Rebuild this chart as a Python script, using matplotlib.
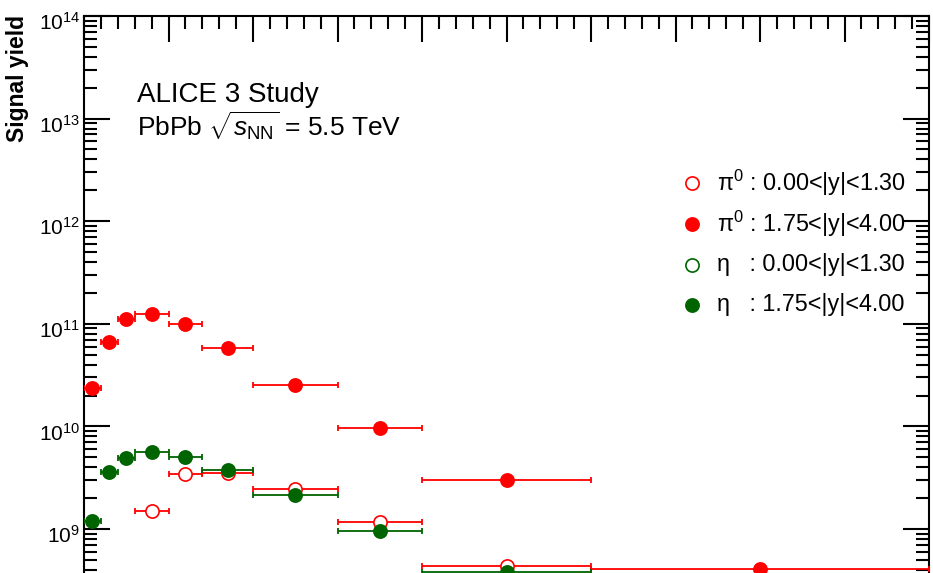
import numpy as np
import matplotlib
matplotlib.use("Agg")
import matplotlib.pyplot as plt
import matplotlib.transforms as mtransforms
from matplotlib.ticker import MultipleLocator, LogLocator, NullFormatter, FixedLocator
from matplotlib.lines import Line2D

plt.rcParams['font.family'] = ['Liberation Sans', 'DejaVu Sans']
plt.rcParams['mathtext.fontset'] = 'custom'
plt.rcParams['mathtext.rm'] = 'Liberation Sans'
plt.rcParams['mathtext.it'] = 'Liberation Sans:italic'
plt.rcParams['mathtext.bf'] = 'Liberation Sans:bold'

# pT bins (GeV/c)
pt_lo = np.array([0.0, 0.2, 0.4, 0.6, 1.0, 1.4, 2.0, 3.0, 4.0, 6.0])
pt_hi = np.array([0.2, 0.4, 0.6, 1.0, 1.4, 2.0, 3.0, 4.0, 6.0, 10.0])

nan = np.nan
# signal yields per bin
pi0_central = np.array([nan, nan, nan, 1.51e9, 3.44e9, 3.5e9, 2.45e9, 1.18e9, 4.4e8, nan])
pi0_forward = np.array([2.35e10, 6.7e10, 1.11e11, 1.26e11, 9.9e10, 5.85e10, 2.51e10, 9.7e9, 3.0e9, 4.07e8])
eta_central = np.array([nan] * 10)
eta_forward = np.array([1.2e9, 3.62e9, 4.95e9, 5.67e9, 4.99e9, 3.76e9, 2.14e9, 9.6e8, 3.8e8, nan])

labels = [r'$\mathregular{\pi^{0}}$ : 0.00<|y|<1.30',
          r'$\mathregular{\pi^{0}}$ : 1.75<|y|<4.00',
          'η   : 0.00<|y|<1.30',
          'η   : 1.75<|y|<4.00']

y_major = [1e9, 1e10, 1e11, 1e12, 1e13, 1e14]

RED = '#ff0000'
GREEN = '#006400'
series = [(pi0_central, RED, False),
          (pi0_forward, RED, True),
          (eta_central, GREEN, False),
          (eta_forward, GREEN, True)]

W, H = 933, 573
fig = plt.figure(figsize=(W / 100, H / 100), dpi=100)
top_px, decade_px = 16, 102.6
ax_h = 6 * decade_px
ax = fig.add_axes([84 / W, 1 - (top_px + ax_h) / H, 845 / W, ax_h / H])

xc = 0.5 * (pt_lo + pt_hi)
xe = 0.5 * (pt_hi - pt_lo)

for i, (vals, col, filled) in enumerate(series):
    ax.errorbar(xc, vals, xerr=xe, fmt='none', ecolor=col, elinewidth=1.3,
                capsize=2.3, capthick=1.3, zorder=2 + 2 * i)
    ax.plot(xc, vals, ls='none', marker='o', ms=9.5,
            mfc=col if filled else 'white', mec=col, mew=1.2, zorder=3 + 2 * i)

ax.set_xlim(0, 10)
ax.set_yscale('log')
ax.set_ylim(1e8, 1e14)
ax.xaxis.set_major_locator(MultipleLocator(1))
ax.xaxis.set_minor_locator(MultipleLocator(0.2))
ax.yaxis.set_major_locator(FixedLocator(y_major))
ax.yaxis.set_minor_locator(LogLocator(base=10, subs=np.arange(2, 10), numticks=20))
ax.yaxis.set_minor_formatter(NullFormatter())
ax.tick_params(which='both', direction='in', top=True, right=True, width=1.5)
ax.tick_params(which='major', length=18.5)
ax.tick_params(which='minor', length=9.5)
ax.tick_params(axis='x', labelbottom=False)
ax.tick_params(axis='y', labelsize=15, pad=3)
for s in ax.spines.values():
    s.set_linewidth(1.5)

# tick labels sit slightly below their ticks
shift = mtransforms.ScaledTranslation(0, -5 / 100, fig.dpi_scale_trans)
for lab in ax.get_yticklabels():
    lab.set_transform(lab.get_transform() + shift)

fig.text(18 / W, 1 - 15 / H, 'Signal yield', rotation=90, ha='center', va='top',
         fontsize=16.5, fontweight='bold')

fig.text(137 / W, 1 - 102 / H, 'ALICE 3 Study', fontsize=20, va='baseline')
fig.text(137 / W, 1 - 137 / H, r'PbPb $\sqrt{s_{\mathrm{NN}}}$ = 5.5 TeV',
         fontsize=19, va='baseline')

# legend
rows_px = [183, 224, 265, 305]
for (vals, col, filled), lab, ry in zip(series, labels, rows_px):
    fig.add_artist(Line2D([692 / W], [1 - ry / H], transform=fig.transFigure,
                          ls='none', marker='o', ms=9.5,
                          mfc=col if filled else 'white', mec=col, mew=1.2))
    fig.text(717 / W, 1 - ry / H, lab, fontsize=16.8, va='center')

fig.savefig('out.png', dpi=100)
